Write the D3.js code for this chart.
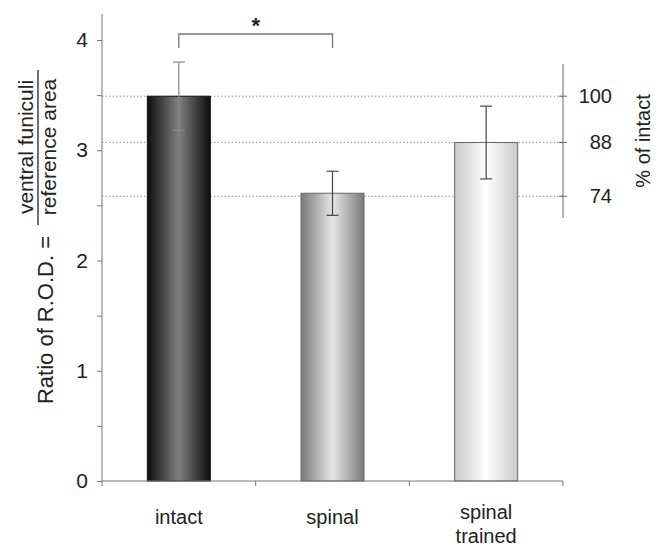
<!DOCTYPE html>
<html>
<head>
<meta charset="utf-8">
<script src="https://cdn.jsdelivr.net/npm/d3@7"></script>
<style>
body { margin: 0; background: #fff; }
text { font-family: "Liberation Sans", Arial, sans-serif; fill: #222; }
</style>
</head>
<body>
<div id="chart"></div>
<script>
const width = 656;
const height = 546;

// data
const groups = ["intact", "spinal", "spinal trained"];
const means = [3.49, 2.61, 3.07];
const errors = [0.31, 0.2, 0.33];
const yTicks = [0, 1, 2, 3, 4];
const pctTicks = [100, 88, 74];

const margin = {left: 102, right: 93, top: 14, bottom: 65};

const svg = d3.select("#chart").append("svg")
    .attr("width", width)
    .attr("height", height);

const x = d3.scaleBand()
    .domain(groups)
    .range([margin.left, width - margin.right])
    .paddingInner(0.59)
    .paddingOuter(0.295);

const y = d3.scaleLinear()
    .domain([0, 4])
    .range([481, 40]);

// right axis: percentage of intact mean
const yPct = d3.scaleLinear()
    .domain([0, 100])
    .range([y(0), y(means[0])]);

// gradients for the bars
const grads = [
    ["#0d0d0d", "#808080"],
    ["#7a7a7a", "#e6e6e6"],
    ["#c8c8c8", "#ffffff"]
];
const defs = svg.append("defs");
grads.forEach((g, i) => {
    const lg = defs.append("linearGradient")
        .attr("id", "g" + i)
        .attr("x1", "0%").attr("x2", "100%")
        .attr("y1", "0%").attr("y2", "0%");
    lg.append("stop").attr("offset", "0%").attr("stop-color", g[0]);
    lg.append("stop").attr("offset", "50%").attr("stop-color", g[1]);
    lg.append("stop").attr("offset", "100%").attr("stop-color", g[0]);
});

// dotted guide lines
svg.selectAll(".guide")
    .data(pctTicks)
    .enter()
    .append("line")
    .attr("x1", margin.left)
    .attr("x2", width - margin.right)
    .attr("y1", d => yPct(d))
    .attr("y2", d => yPct(d))
    .attr("stroke", "#999")
    .attr("stroke-width", 1)
    .attr("stroke-dasharray", "1.5,2");

// bars
svg.selectAll(".bar")
    .data(groups)
    .enter()
    .append("rect")
    .attr("x", d => x(d))
    .attr("y", (d, i) => y(means[i]))
    .attr("width", x.bandwidth())
    .attr("height", (d, i) => y(0) - y(means[i]))
    .attr("fill", (d, i) => "url(#g" + i + ")")
    .attr("stroke", (d, i) => i == 0 ? "#111" : "#666")
    .attr("stroke-width", 1);

// error bars
const eb = svg.selectAll(".err")
    .data(groups)
    .enter()
    .append("g")
    .attr("stroke", (d, i) => i == 0 ? "#888" : "#444")
    .attr("stroke-width", 1.2);
eb.append("line")
    .attr("x1", d => x(d) + x.bandwidth() / 2)
    .attr("x2", d => x(d) + x.bandwidth() / 2)
    .attr("y1", (d, i) => y(means[i] + errors[i]))
    .attr("y2", (d, i) => y(means[i] - errors[i]));
[1, -1].forEach(s => {
    eb.append("line")
        .attr("x1", d => x(d) + x.bandwidth() / 2 - 6)
        .attr("x2", d => x(d) + x.bandwidth() / 2 + 6)
        .attr("y1", (d, i) => y(means[i] + s * errors[i]))
        .attr("y2", (d, i) => y(means[i] + s * errors[i]));
});

// left axis
const yAxis = d3.axisLeft(y)
    .tickValues(d3.range(0, 4.01, 0.5))
    .tickSize(5)
    .tickFormat(d => yTicks.includes(d) ? d : "");
const gy = svg.append("g")
    .attr("transform", `translate(${margin.left},0)`)
    .call(yAxis);
gy.select(".domain").remove();
gy.append("line")
    .attr("x1", 0).attr("x2", 0)
    .attr("y1", margin.top).attr("y2", y(0))
    .attr("stroke", "#777");
gy.selectAll(".tick line").attr("stroke", "#777");
gy.selectAll(".tick text")
    .attr("x", -14)
    .style("font-size", "21px")
    .style("font-family", "Liberation Sans, Arial, sans-serif")
    .attr("fill", "#222");

// bottom axis
const gx = svg.append("g")
    .attr("transform", `translate(0,${y(0)})`);
gx.append("line")
    .attr("x1", margin.left).attr("x2", width - margin.right)
    .attr("stroke", "#777");
const edges = groups.map(d => x(d) - x.step() * x.paddingInner() / 2);
edges.push(width - margin.right);
gx.selectAll(".xt")
    .data(edges)
    .enter()
    .append("line")
    .attr("x1", d => d).attr("x2", d => d)
    .attr("y1", 0).attr("y2", 5)
    .attr("stroke", "#777");

const labels = svg.selectAll(".xl")
    .data(groups)
    .enter()
    .append("text")
    .attr("text-anchor", "middle")
    .style("font-size", "20px")
    .attr("x", d => x(d) + x.bandwidth() / 2)
    .attr("y", d => d.includes(" ") ? 519 : 524);
labels.each(function (d) {
    const parts = d.split(" ");
    parts.forEach((p, k) => {
        d3.select(this).append("tspan")
            .attr("x", x(d) + x.bandwidth() / 2)
            .attr("dy", k == 0 ? 0 : 24)
            .text(p);
    });
});

// right axis
const rx = width - margin.right;
svg.append("line")
    .attr("x1", rx).attr("x2", rx)
    .attr("y1", 64).attr("y2", 218)
    .attr("stroke", "#666");
svg.selectAll(".rt")
    .data(pctTicks)
    .enter()
    .append("line")
    .attr("x1", rx - 4).attr("x2", rx + 4)
    .attr("y1", d => yPct(d)).attr("y2", d => yPct(d))
    .attr("stroke", "#666");
svg.selectAll(".rl")
    .data(pctTicks)
    .enter()
    .append("text")
    .attr("x", rx + 49)
    .attr("y", d => yPct(d) + 7)
    .attr("text-anchor", "end")
    .style("font-size", "20px")
    .text(d => d);

svg.append("text")
    .attr("transform", `translate(650,141) rotate(-90)`)
    .attr("text-anchor", "middle")
    .style("font-size", "20px")
    .text("% of intact");

// left title with fraction
const t = svg.append("g");
t.append("text")
    .attr("transform", "translate(53,320) rotate(-90)")
    .attr("text-anchor", "middle")
    .style("font-size", "22px")
    .text("Ratio of R.O.D. =");
t.append("text")
    .attr("transform", "translate(33,147) rotate(-90)")
    .attr("text-anchor", "middle")
    .style("font-size", "21px")
    .text("ventral funiculi");
t.append("text")
    .attr("transform", "translate(56,147) rotate(-90)")
    .attr("text-anchor", "middle")
    .style("font-size", "21px")
    .text("reference area");
t.append("line")
    .attr("x1", 38).attr("x2", 38)
    .attr("y1", 70).attr("y2", 225)
    .attr("stroke", "#222")
    .attr("stroke-width", 1.3);

// significance bracket
const b1 = x(groups[0]) + x.bandwidth() / 2;
const b2 = x(groups[1]) + x.bandwidth() / 2;
svg.append("path")
    .attr("d", `M${b1},48V34H${b2}V48`)
    .attr("fill", "none")
    .attr("stroke", "#777")
    .attr("stroke-width", 1.3);
svg.append("text")
    .attr("x", (b1 + b2) / 2)
    .attr("y", 33)
    .attr("text-anchor", "middle")
    .style("font-size", "22px")
    .style("font-weight", "bold")
    .text("*");
</script>
</body>
</html>
